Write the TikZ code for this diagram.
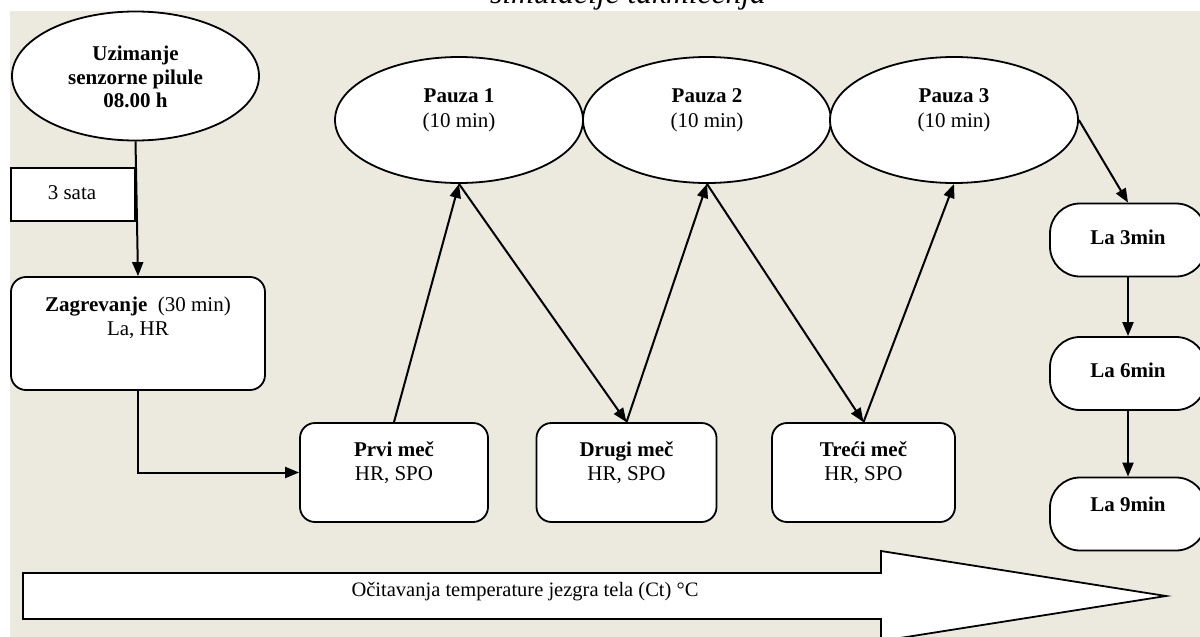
\documentclass[tikz,border=0pt]{standalone}
\usepackage{fontspec}
\setmainfont{Liberation Serif}
\usetikzlibrary{shapes.geometric,arrows.meta}
\definecolor{bg}{RGB}{236,233,223}
\begin{document}
\begin{tikzpicture}[x=1pt,y=-1pt,
  every node/.style={font=\fontsize{21}{24}\selectfont},
  shp/.style={draw,line width=1.8pt,fill=white,inner sep=0pt},
  ell/.style={shp,ellipse},
  rbox/.style={shp,rectangle,rounded corners=15pt},
  labox/.style={shp,rectangle,rounded corners=30pt,minimum width=156pt,minimum height=73pt},
  txt/.style={align=center,inner sep=0pt},
  conn/.style={line width=2pt,-{Triangle[length=14pt,width=11pt]}},
]
\useasboundingbox (0,0) rectangle (1200,637);
\clip (0,0) rectangle (1200,637);
\fill[bg] (10,11) rectangle (1200,637);
\node[font=\fontsize{31.5}{34}\selectfont\itshape, anchor=base, inner sep=0pt] (title) at (628,4) {simulacije takmičenja};

% shapes
\node[ell,minimum width=247pt,minimum height=129pt] (pill) at (135.5,76) {};
\node[shp,rectangle,minimum width=124pt,minimum height=53pt] (sata) at (73,194.5) {};
\node[rbox,minimum width=254pt,minimum height=113pt] (zag) at (138,333.5) {};
\node[rbox,minimum width=188pt,minimum height=99pt] (prvi) at (394,472.5) {};
\node[rbox,minimum width=180pt,minimum height=99pt] (drugi) at (626.5,472.5) {};
\node[rbox,minimum width=183pt,minimum height=99pt] (treci) at (863.5,472.5) {};
\node[ell,minimum width=248pt,minimum height=126pt] (p1) at (459,120) {};
\node[ell,minimum width=248pt,minimum height=126pt] (p2) at (707,120) {};
\node[ell,minimum width=248pt,minimum height=126pt] (p3) at (954,120) {};
\node[labox] (la3) at (1128,240) {};
\node[labox] (la6) at (1128,373.5) {};
\node[labox] (la9) at (1128,514) {};

% texts
\node[txt,font=\fontsize{21}{23.5}\selectfont\bfseries] (pillt) at (135.5,77) {Uzimanje\\senzorne pilule\\08.00 h};
\node[txt] (satat) at (72,193) {3 sata};
\node[txt] (zagt) at (138,318) {\textbf{Zagrevanje}\ \ (30 min)\\La, HR};
\node[txt] (prvit) at (394,463) {\textbf{Prvi meč}\\HR, SPO};
\node[txt] (drugit) at (626.5,463) {\textbf{Drugi meč}\\HR, SPO};
\node[txt] (trecit) at (863.5,463) {\textbf{Treći meč}\\HR, SPO};
\node[txt,font=\fontsize{21}{25}\selectfont] (p1t) at (459,110) {\textbf{Pauza 1}\\(10 min)};
\node[txt,font=\fontsize{21}{25}\selectfont] (p2t) at (707,110) {\textbf{Pauza 2}\\(10 min)};
\node[txt,font=\fontsize{21}{25}\selectfont] (p3t) at (954,110) {\textbf{Pauza 3}\\(10 min)};
\node[txt] (la3t) at (1128,237) {\textbf{La 3min}};
\node[txt] (la6t) at (1128,370) {\textbf{La 6min}};
\node[txt] (la9t) at (1128,504) {\textbf{La 9min}};

% connectors
\draw[conn] (pill.south) -- (zag.north);
\draw[conn] (zag.south) |- (prvi.west);
\draw[conn] (prvi.north) -- (p1.south);
\draw[conn] (p1.south) -- (drugi.north);
\draw[conn] (drugi.north) -- (p2.south);
\draw[conn] (p2.south) -- (treci.north);
\draw[conn] (treci.north) -- (p3.south);
\draw[conn] (p3.east) -- (la3.north);
\draw[conn] (la3.south) -- (la6.north);
\draw[conn] (la6.south) -- (la9.north);

% big arrow
\draw[line width=1.8pt,fill=white] (23,573) -- (881,573) -- (881,551) -- (1166,596) -- (881,641) -- (881,619) -- (23,619) -- cycle;
\node[txt,font=\fontsize{20.5}{23}\selectfont] (ct) at (525,592) {Očitavanja temperature jezgra tela (Ct) °C};
\end{tikzpicture}
\end{document}
